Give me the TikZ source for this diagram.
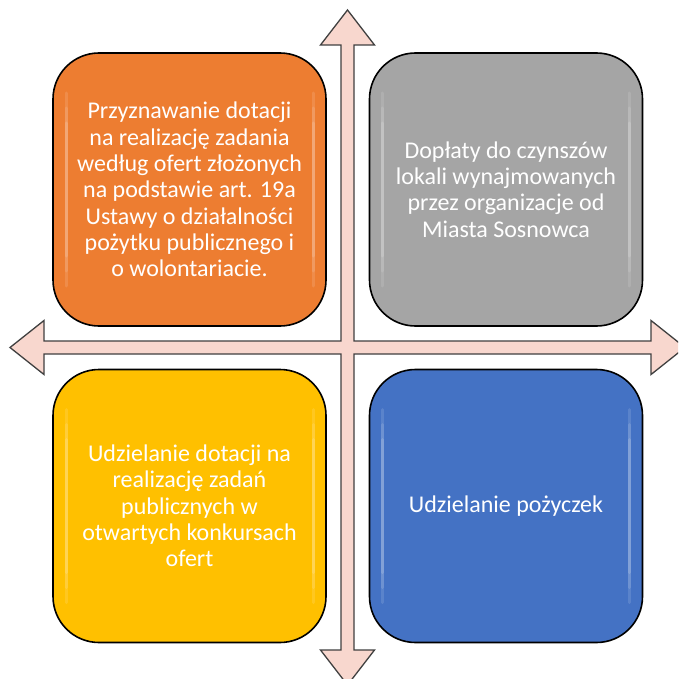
\documentclass[tikz,border=0pt]{standalone}
\usepackage{fontspec}
\setmainfont{Carlito}
\definecolor{qorange}{HTML}{ED7D31}
\definecolor{qgray}{HTML}{A5A5A5}
\definecolor{qyellow}{HTML}{FFC000}
\definecolor{qblue}{HTML}{4472C4}
\definecolor{crossfill}{HTML}{F8D7CE}
\definecolor{crossline}{HTML}{404040}
\tikzset{
  quad/.style={draw=black, line width=1.6pt, rounded corners=46pt,
    minimum width=273pt, minimum height=273pt, fill=#1, text=white,
    align=center, inner sep=0pt,
    font=\fontsize{24}{26.3}\selectfont,
    path picture={
      \foreach \k/\o in {40/0.12, 55/0.12, 70/0.14}{
        \draw[white, opacity=\o, line width=3pt, line cap=round]
          ([xshift=13pt,yshift=-\k pt]path picture bounding box.north west) --
          ([xshift=13pt,yshift=\k pt]path picture bounding box.south west);
        \draw[white, opacity=\o, line width=3pt, line cap=round]
          ([xshift=-13pt,yshift=-\k pt]path picture bounding box.north east) --
          ([xshift=-13pt,yshift=\k pt]path picture bounding box.south east);
      }
    }},
  crossarrow/.style={fill=crossfill, draw=crossline, line width=1.3pt, line join=miter}
}
\begin{document}
\begin{tikzpicture}[x=1pt,y=-1pt]
\useasboundingbox (0,0) rectangle (678,679);
\clip (0,0) rectangle (678,679);
\fill[white] (0,0) rectangle (678,679);
\draw[crossarrow] (10,347.5) -- (44,320.5) -- (44,341) -- (341,341) -- (341,45)
  -- (320.5,45) -- (347.5,10) -- (374.5,45) -- (354,45) -- (354,341) -- (651,341)
  -- (651,320.5) -- (685,347.5) -- (651,374.5) -- (651,354) -- (354,354)
  -- (354,650) -- (374.5,650) -- (347.5,685) -- (320.5,650) -- (341,650)
  -- (341,354) -- (44,354) -- (44,374.5) -- cycle;
\node[quad=qorange] (a) at (189.5,189.5) {Przyznawanie dotacji\\na realizację zadania\\według ofert złożonych\\na podstawie art. 19a\\Ustawy o działalności\\pożytku publicznego i\\o wolontariacie.};
\node[quad=qgray] (b) at (506,189.5) {Dopłaty do czynszów\\lokali wynajmowanych\\przez organizacje od\\Miasta Sosnowca};
\node[quad=qyellow] (c) at (189.5,506) {Udzielanie dotacji na\\realizację zadań\\publicznych w\\otwartych konkursach\\ofert};
\node[quad=qblue] (d) at (506,506) {Udzielanie pożyczek};
\end{tikzpicture}
\end{document}
